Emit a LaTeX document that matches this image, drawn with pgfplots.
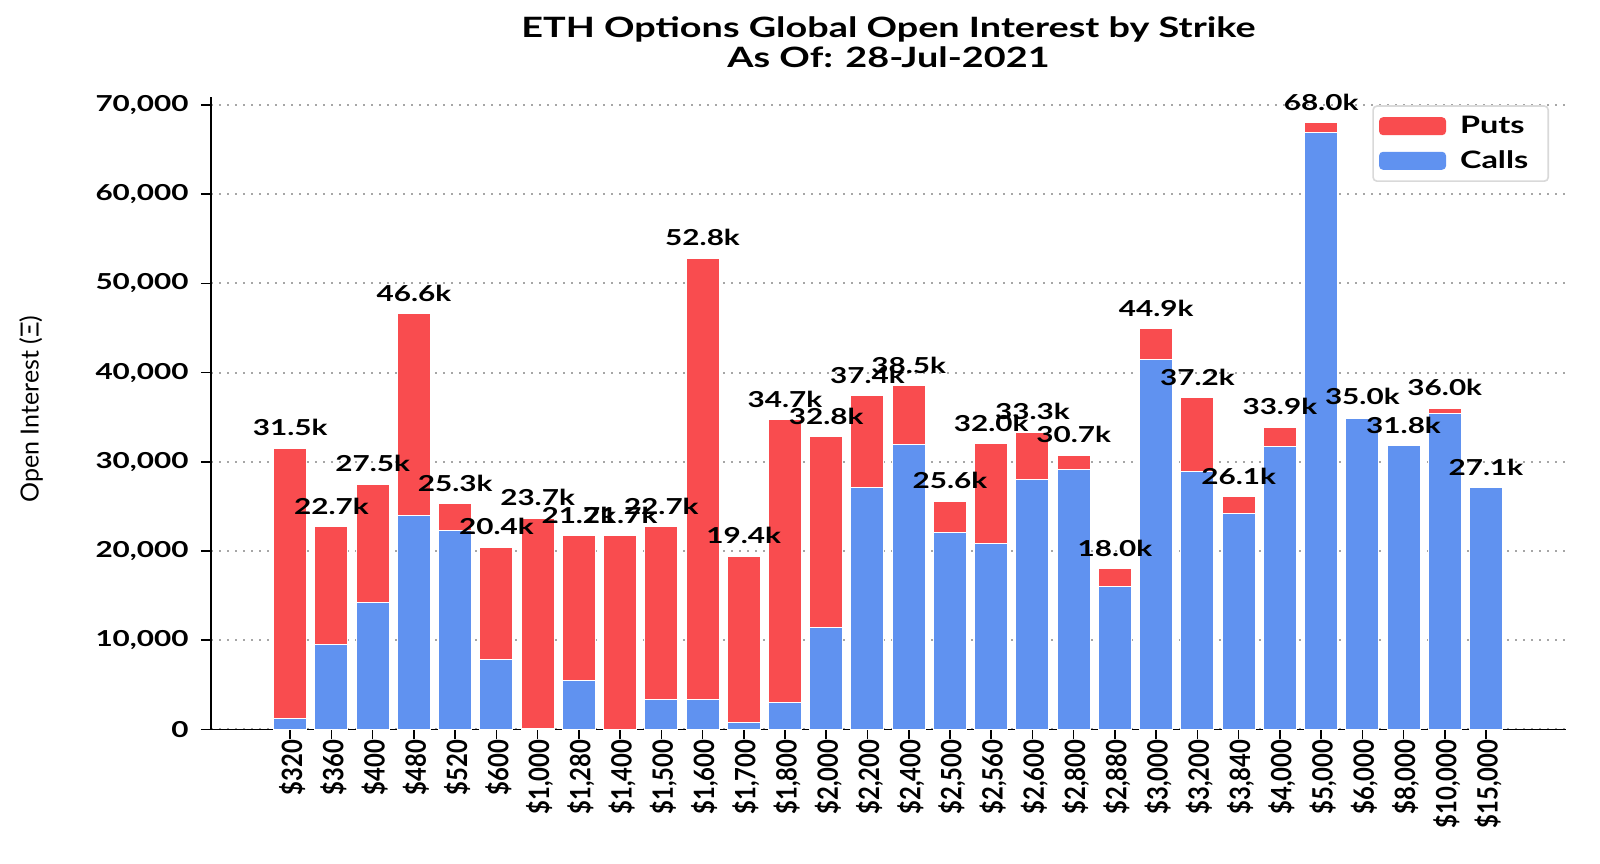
\documentclass[border=0pt]{standalone}
\usepackage{fontspec}
\setmainfont{Lato}
\newfontfamily\wfont[FakeStretch=1.35]{Lato}
\newfontfamily\rfont[FakeStretch=0.85]{Lato}
\usepackage{pgfplots}
\usepackage{pgfplotstable}
\pgfplotsset{compat=1.18}
\definecolor{putred}{RGB}{249,76,79}
\definecolor{callblue}{RGB}{96,146,240}
\pgfplotstableread{
x calls total lab
0 1230 31500 31.5k
1 9490 22700 22.7k
2 14210 27500 27.5k
3 24030 46600 46.6k
4 22280 25300 25.3k
5 7790 20400 20.4k
6 150 23700 23.7k
7 5510 21700 21.7k
8 0 21700 21.7k
9 3350 22700 22.7k
10 3390 52800 52.8k
11 730 19400 19.4k
12 2970 34700 34.7k
13 11370 32800 32.8k
14 27140 37400 37.4k
15 31920 38500 38.5k
16 22090 25600 25.6k
17 20820 32000 32.0k
18 28070 33300 33.3k
19 29140 30700 30.7k
20 16050 18000 18.0k
21 41440 44900 44.9k
22 28940 37200 37.2k
23 24170 26100 26.1k
24 31670 33900 33.9k
25 66890 68000 68.0k
26 34840 35000 35.0k
27 31800 31800 31.8k
28 35450 36000 36.0k
29 27100 27100 27.1k
}\data
\begin{document}
\begin{tikzpicture}
\useasboundingbox (0,0) rectangle (800pt,431.5pt);
\begin{axis}[
  at={(105.5pt,66.8pt)}, anchor=south west,
  scale only axis, width=677.5pt, height=316.2pt,
  ybar, bar width=0.8, bar shift=0pt,
  xmin=-1.92, xmax=30.94, ymin=0, ymax=70900,
  scaled y ticks=false,
  axis x line*=bottom, axis y line*=left,
  axis line style={line width=0.9pt, black},
  tick align=outside, major tick length=5pt,
  tick style={line width=0.8pt, black},
  xtick={0,...,29},
  xticklabels={\$320,\$360,\$400,\$480,\$520,\$600,{\$1,000},{\$1,280},{\$1,400},{\$1,500},{\$1,600},{\$1,700},{\$1,800},{\$2,000},{\$2,200},{\$2,400},{\$2,500},{\$2,560},{\$2,600},{\$2,800},{\$2,880},{\$3,000},{\$3,200},{\$3,840},{\$4,000},{\$5,000},{\$6,000},{\$8,000},{\$10,000},{\$15,000}},
  xticklabel style={rotate=90, anchor=east, inner sep=0pt, yshift=-1pt, font=\rfont\bfseries\fontsize{14}{14}\selectfont},
  ytick={0,10000,20000,30000,40000,50000,60000,70000},
  yticklabels={0,{10,000},{20,000},{30,000},{40,000},{50,000},{60,000},{70,000}},
  yticklabel style={inner sep=0pt, xshift=-6pt, font=\wfont\bfseries\fontsize{11}{11}\selectfont},
  ymajorgrids,
  major grid style={gray!70, line width=1pt, dash pattern=on 1pt off 3pt},
  legend cell align=left,
  legend style={at={(0.9875,0.987)}, anchor=north east, draw=gray!30, line width=0.8pt, rounded corners=2pt, fill=white,
    font=\wfont\bfseries\fontsize{12}{12}\selectfont, inner xsep=3pt, inner ysep=3pt, row sep=3pt,
    nodes={inner xsep=7pt}},
  legend image code/.code={\fill[#1,draw=none] (0pt,-4.5pt) rectangle (33.5pt,4.5pt);},
]
\addplot[fill=putred, draw=white, line width=0.5pt] table[x=x, y=total] {\data};
\addlegendentry{Puts}
\addplot[fill=callblue, draw=white, line width=0.5pt] table[x=x, y=calls] {\data};
\addlegendentry{Calls}
\addplot[draw=none, fill=none, forget plot,
  point meta=explicit symbolic,
  nodes near coords,
  nodes near coords style={anchor=south, inner sep=0pt, yshift=6pt, text=black, font=\wfont\bfseries\fontsize{11}{11}\selectfont}
] table[x=x, y=total, meta=lab] {\data};
\end{axis}
\node[anchor=base, font=\wfont\bfseries\fontsize{14}{14}\selectfont] at (444.25pt,412.5pt) {ETH Options Global Open Interest by Strike};
\node[anchor=base, font=\wfont\bfseries\fontsize{14}{14}\selectfont] at (444.25pt,397.5pt) {As Of: 28-Jul-2021};
\node[rotate=90, font=\fontsize{12.5}{12.5}\selectfont] at (15.5pt,227pt) {Open Interest (Ξ)};
\end{tikzpicture}
\end{document}
